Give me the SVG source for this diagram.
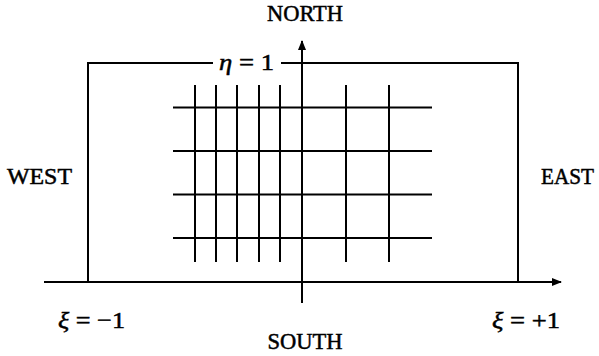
<svg xmlns="http://www.w3.org/2000/svg" width="599" height="356" viewBox="0 0 599 356">
<style>
.ln{stroke:#000;stroke-width:2;fill:none}
.gr{stroke:#000;stroke-width:2}
.lbl{font-family:"Liberation Serif","DejaVu Serif",serif;font-size:23px;fill:#000;stroke:#000;stroke-width:0.5}
.math{font-family:"Liberation Serif","DejaVu Serif",serif;font-size:24px;fill:#000;stroke:#000;stroke-width:0.5}
.it{font-style:italic}
</style>
<defs>
<marker id="arr" markerWidth="10" markerHeight="8" refX="9" refY="4" orient="auto" markerUnits="userSpaceOnUse">
<path d="M0,0 L10,4 L0,8 Z" fill="#000"/>
</marker>
</defs>
<rect width="599" height="356" fill="#fff"/>
<g id="domain">
<path class="ln" d="M88,282 V63 H213 M281,63 H518 V282"/>
</g>
<g id="grid">
<line class="gr" x1="173" y1="107.5" x2="432" y2="107.5"/>
<line class="gr" x1="173" y1="151" x2="432" y2="151"/>
<line class="gr" x1="173" y1="194.5" x2="432" y2="194.5"/>
<line class="gr" x1="173" y1="238" x2="432" y2="238"/>
<line class="gr" x1="195" y1="85" x2="195" y2="262"/>
<line class="gr" x1="216" y1="85" x2="216" y2="262"/>
<line class="gr" x1="237" y1="85" x2="237" y2="262"/>
<line class="gr" x1="259" y1="85" x2="259" y2="262"/>
<line class="gr" x1="280" y1="85" x2="280" y2="262"/>
<line class="gr" x1="346" y1="85" x2="346" y2="262"/>
<line class="gr" x1="389" y1="85" x2="389" y2="262"/>
</g>
<g id="axes">
<line class="ln" x1="44" y1="282" x2="561" y2="282" marker-end="url(#arr)"/>
<line class="ln" x1="302" y1="303" x2="302" y2="41" marker-end="url(#arr)"/>
</g>
<g id="labels">
<text class="lbl" x="305" y="21" text-anchor="middle" textLength="76" lengthAdjust="spacingAndGlyphs">NORTH</text>
<text class="lbl" x="305" y="349" text-anchor="middle" textLength="75" lengthAdjust="spacingAndGlyphs">SOUTH</text>
<text class="lbl" x="7" y="184" textLength="65" lengthAdjust="spacingAndGlyphs">WEST</text>
<text class="lbl" x="541" y="184" textLength="53" lengthAdjust="spacingAndGlyphs">EAST</text>
<text class="math" x="219" y="70" textLength="55" lengthAdjust="spacingAndGlyphs"><tspan class="it">η</tspan> = 1</text>
<text class="math" x="58" y="328" textLength="67" lengthAdjust="spacingAndGlyphs"><tspan class="it">ξ</tspan> = −1</text>
<text class="math" x="492" y="328" textLength="68" lengthAdjust="spacingAndGlyphs"><tspan class="it">ξ</tspan> = +1</text>
</g>
</svg>
